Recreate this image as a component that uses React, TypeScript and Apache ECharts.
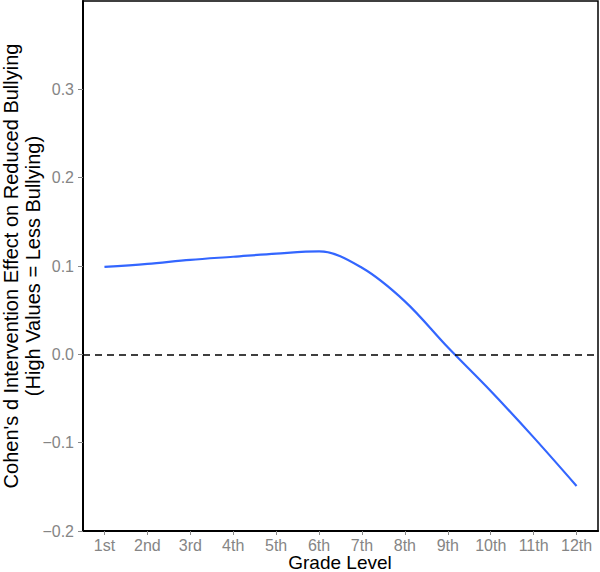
import React, { useEffect, useRef } from "react";
import * as echarts from "echarts";

const grades = ["1st", "2nd", "3rd", "4th", "5th", "6th", "7th", "8th", "9th", "10th", "11th", "12th"];
const effect = [0.099, 0.1025, 0.107, 0.1105, 0.114, 0.1165, 0.098, 0.06, 0.008, -0.0415, -0.094, -0.149];
const yTitle1 = "Cohen's d Intervention Effect on Reduced Bullying";
const yTitle2 = "(High Values = Less Bullying)";
const xTitle = "Grade Level";

const FONT = "'Liberation Sans', Arial, Helvetica, sans-serif";

export default function App() {
  const ref = useRef<HTMLDivElement>(null);
  useEffect(() => {
    document.body.style.margin = "0";
    const chart = echarts.init(ref.current!, null, { renderer: "svg" });
    chart.setOption({
      animation: false,
      backgroundColor: "#ffffff",
      grid: { left: 83, right: 2, top: 1, bottom: 41, show: true, borderColor: "#000", borderWidth: 1.5, backgroundColor: "transparent" },
      xAxis: {
        type: "category",
        data: grades,
        boundaryGap: true,
        axisLine: { show: true, onZero: false, lineStyle: { color: "#000", width: 2 } },
        axisTick: { show: true, alignWithLabel: true, length: 4, lineStyle: { color: "#888" } },
        axisLabel: { color: "#858585", fontSize: 16, fontFamily: FONT, margin: 6 },
        splitLine: { show: false },
      },
      yAxis: {
        type: "value",
        min: -0.2,
        max: 0.4,
        interval: 0.1,
        axisLine: { show: true, onZero: false, lineStyle: { color: "#000", width: 2 } },
        axisTick: { show: true, length: 5, lineStyle: { color: "#888" } },
        axisLabel: {
          color: "#858585",
          fontSize: 16,
          fontFamily: FONT,
          margin: 9,
          showMaxLabel: false,
          formatter: (v: number) => (v > 0.35 ? "" : v.toFixed(1).replace("-", "\u2212")),
        },
        splitLine: { show: false },
      },
      series: [
        {
          type: "line",
          data: effect,
          smooth: 0.35,
          symbol: "none",
          lineStyle: { color: "#3366FF", width: 2.2 },
          markLine: {
            silent: true,
            symbol: "none",
            label: { show: false },
            lineStyle: { color: "#000", type: [7, 5], width: 1.5 },
            data: [{ yAxis: 0 }],
          },
        },
      ],
      graphic: [
        {
          type: "text",
          x: 11,
          y: 266,
          rotation: Math.PI / 2,
          style: { text: yTitle1, font: `20px ${FONT}`, fill: "#000", align: "center", verticalAlign: "middle" },
        },
        {
          type: "text",
          x: 33,
          y: 266,
          rotation: Math.PI / 2,
          style: { text: yTitle2, font: `20px ${FONT}`, fill: "#000", align: "center", verticalAlign: "middle" },
        },
        {
          type: "text",
          x: 340,
          y: 562.5,
          style: { text: xTitle, font: `19px ${FONT}`, fill: "#000", align: "center", verticalAlign: "middle" },
        },
      ],
    });
    return () => chart.dispose();
  }, []);
  return <div ref={ref} style={{ width: 600, height: 572 }} />;
}
